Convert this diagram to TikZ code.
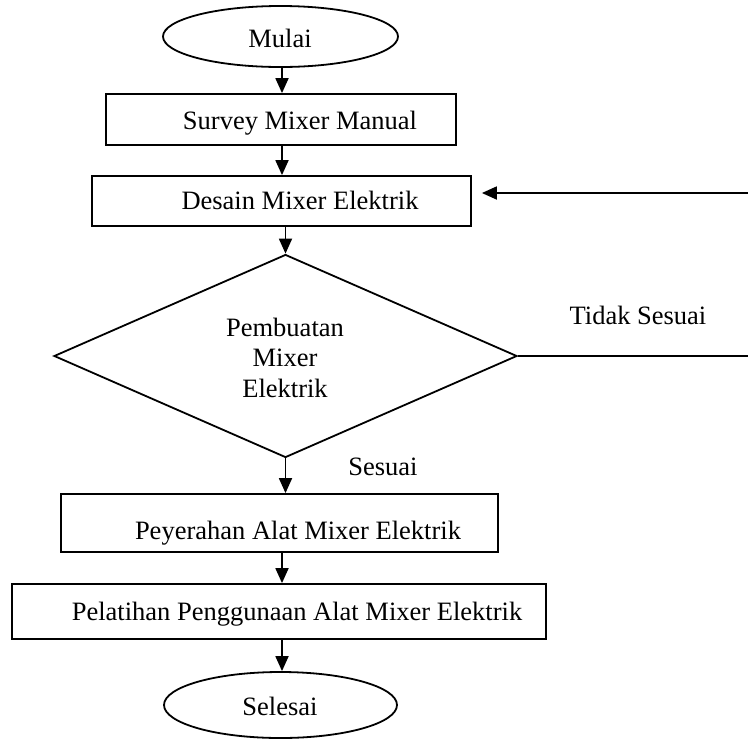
\documentclass[tikz,border=0pt]{standalone}
\usepackage{fontspec}
\setmainfont{Liberation Serif}
\usetikzlibrary{shapes.geometric,arrows.meta}
\tikzset{
  lw/.style={line width=1.8pt},
  boxr/.style={draw,lw,rectangle,inner sep=0pt},
  oval/.style={draw,lw,ellipse,inner sep=0pt},
  dia/.style={draw,lw,diamond,inner sep=0pt},
  txt/.style={inner sep=0pt,anchor=base,font=\fontsize{26.5}{30.5}\selectfont},
  arr/.style={lw,-{Triangle[length=15pt,width=13pt]}},
  ln/.style={lw}
}
\begin{document}
\begin{tikzpicture}[x=1pt,y=-1pt]
\useasboundingbox (0,0) rectangle (748,740);
% shapes
\node[oval,minimum width=235pt,minimum height=61pt] (mulai) at (280.5,36.5) {};
\node[boxr,minimum width=350pt,minimum height=51pt] (survey) at (281,119.5) {};
\node[boxr,minimum width=379pt,minimum height=50pt] (desain) at (281.5,201) {};
\node[dia,minimum width=463pt,minimum height=203pt] (buat) at (285.5,356) {};
\node[boxr,minimum width=437pt,minimum height=58pt] (serah) at (279.5,523) {};
\node[boxr,minimum width=534pt,minimum height=55pt] (latih) at (279,611.5) {};
\node[oval,minimum width=233pt,minimum height=66pt] (selesai) at (280.5,705) {};
% texts
\node[txt] (tmulai) at (280,47) {Mulai};
\node[txt] (tsurvey) at (300,129) {Survey Mixer Manual};
\node[txt] (tdesain) at (300,209) {Desain Mixer Elektrik};
\node[txt] (tb1) at (285,336) {Pembuatan};
\node[txt] (tb2) at (285,366) {Mixer};
\node[txt] (tb3) at (285,397) {Elektrik};
\node[txt] (ttidak) at (638,324) {Tidak Sesuai};
\node[txt] (tsesuai) at (383,475) {Sesuai};
\node[txt] (tserah) at (298,539) {Peyerahan Alat Mixer Elektrik};
\node[txt] (tlatih) at (297,620) {Pelatihan Penggunaan Alat Mixer Elektrik};
\node[txt] (tselesai) at (280,715) {Selesai};
% connectors
\coordinate (r1) at (748,356);
\coordinate (r2) at (748,193);
\draw[arr] (mulai.south -| 282,0) -- (282,0 |- survey.north);
\draw[arr] (survey.south -| 282,0) -- (282,0 |- desain.north);
\draw[arr] (desain.south -| buat.north) -- (buat.north);
\draw[arr] (buat.south) -- (buat.south |- serah.north);
\draw[arr] (serah.south -| 282,0) -- (282,0 |- latih.north);
\draw[arr] (latih.south -| 282,0) -- (282,0 |- selesai.north);
\draw[ln] (buat.east) -- (r1);
\draw[arr,shorten >=10pt] (r2) -- (desain.east |- r2);
\end{tikzpicture}
\end{document}
